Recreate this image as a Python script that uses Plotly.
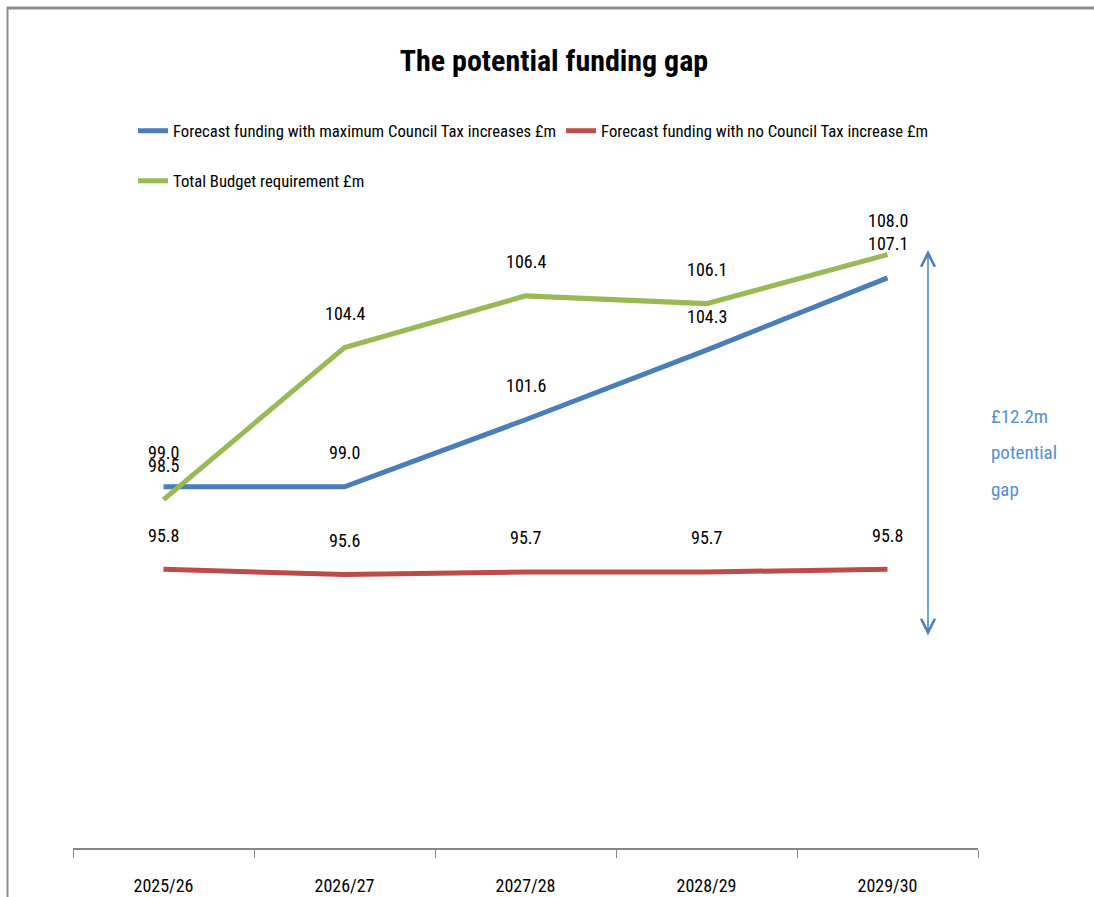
import plotly.graph_objects as go

years = ["2025/26", "2026/27", "2027/28", "2028/29", "2029/30"]
max_ct = [99.0, 99.0, 101.6, 104.3, 107.1]
no_ct = [95.8, 95.6, 95.7, 95.7, 95.8]
budget = [98.5, 104.4, 106.4, 106.1, 108.0]

names = [
    "Forecast funding with maximum Council Tax increases £m",
    "Forecast funding with no Council Tax increase £m",
    "Total Budget requirement £m",
]
colors = ["#4A7EBB", "#BE4B48", "#98B954"]
series = [max_ct, no_ct, budget]
legends = ["legend", "legend", "legend2"]

FONT = "Liberation Sans Narrow, Arial Narrow, Roboto Condensed, sans-serif"

W, H = 1094, 897
L, R, T, B = 73, 116, 203, 49
PW, PH = W - L - R, H - T - B

fig = go.Figure()
for name, col, vals, lg in zip(names, colors, series, legends):
    fig.add_trace(go.Scatter(
        x=years, y=vals, mode="lines", name=name,
        line=dict(color=col, width=5), legend=lg, hoverinfo="skip",
    ))

annotations = []
for vals in series:
    for x, v in zip(years, vals):
        annotations.append(dict(
            x=x, y=v, xref="x", yref="y", text=f"{v:.1f}", showarrow=False,
            yshift=34, font=dict(family=FONT, size=18, color="#000000"),
        ))

def px_x(p):
    return (p - L) / PW

def px_y(p):
    return (H - B - p) / PH

# double-headed gap arrow
annotations.append(dict(
    x=px_x(928), y=px_y(250), xref="paper", yref="paper",
    ax=0, ay=387, axref="pixel", ayref="pixel", text="", showarrow=True,
    arrowhead=5, startarrowhead=5, arrowside="end+start",
    arrowsize=1.8, startarrowsize=1.8, arrowwidth=1.5, arrowcolor="#4F81BD",
))
for txt, yy in [("£12.2m", 416), ("potential", 452), ("gap", 489)]:
    annotations.append(dict(
        x=px_x(989), y=px_y(yy), xref="paper", yref="paper", text=txt,
        showarrow=False, xanchor="left", yanchor="middle",
        font=dict(family=FONT, size=19, color="#558ED5"),
    ))

shapes = [
    dict(type="line", xref="paper", yref="paper",
         x0=px_x(7), x1=px_x(1094), y0=px_y(8), y1=px_y(8),
         line=dict(color="#8C8C8C", width=3)),
    dict(type="line", xref="paper", yref="paper",
         x0=px_x(7.5), x1=px_x(7.5), y0=px_y(7), y1=px_y(897),
         line=dict(color="#8C8C8C", width=2)),
]

fig.update_layout(
    width=W, height=H, autosize=False,
    margin=dict(l=L, r=R, t=T, b=B),
    paper_bgcolor="white", plot_bgcolor="white",
    font=dict(family=FONT, size=17, color="#000000"),
    title=dict(text="<b>The potential funding gap</b>", x=554 / W, xref="container",
               xanchor="center", y=1 - 60 / H, yref="container", yanchor="middle",
               font=dict(family=FONT, size=30, color="#000000")),
    xaxis=dict(type="category", range=[-0.5, 4.5], showgrid=False, zeroline=False,
               showline=True, linecolor="#868686", linewidth=2,
               ticks="outside", ticklen=8, tickcolor="#868686", tickwidth=1,
               tickson="boundaries", ticklabelstandoff=20, automargin=False,
               tickfont=dict(family=FONT, size=18, color="#000000")),
    yaxis=dict(range=[85, 110], visible=False, showgrid=False, zeroline=False,
               automargin=False),
    legend=dict(orientation="h", x=px_x(133), xref="paper", xanchor="left",
                y=px_y(131), yref="paper", yanchor="middle",
                font=dict(family=FONT, size=16.7), bgcolor="rgba(0,0,0,0)",
                itemclick=False, itemdoubleclick=False),
    legend2=dict(orientation="h", x=px_x(133), xref="paper", xanchor="left",
                 y=px_y(181), yref="paper", yanchor="middle",
                 font=dict(family=FONT, size=16.7), bgcolor="rgba(0,0,0,0)",
                 itemclick=False, itemdoubleclick=False),
    annotations=annotations,
    shapes=shapes,
    showlegend=True,
)

fig.write_html("out.html")
